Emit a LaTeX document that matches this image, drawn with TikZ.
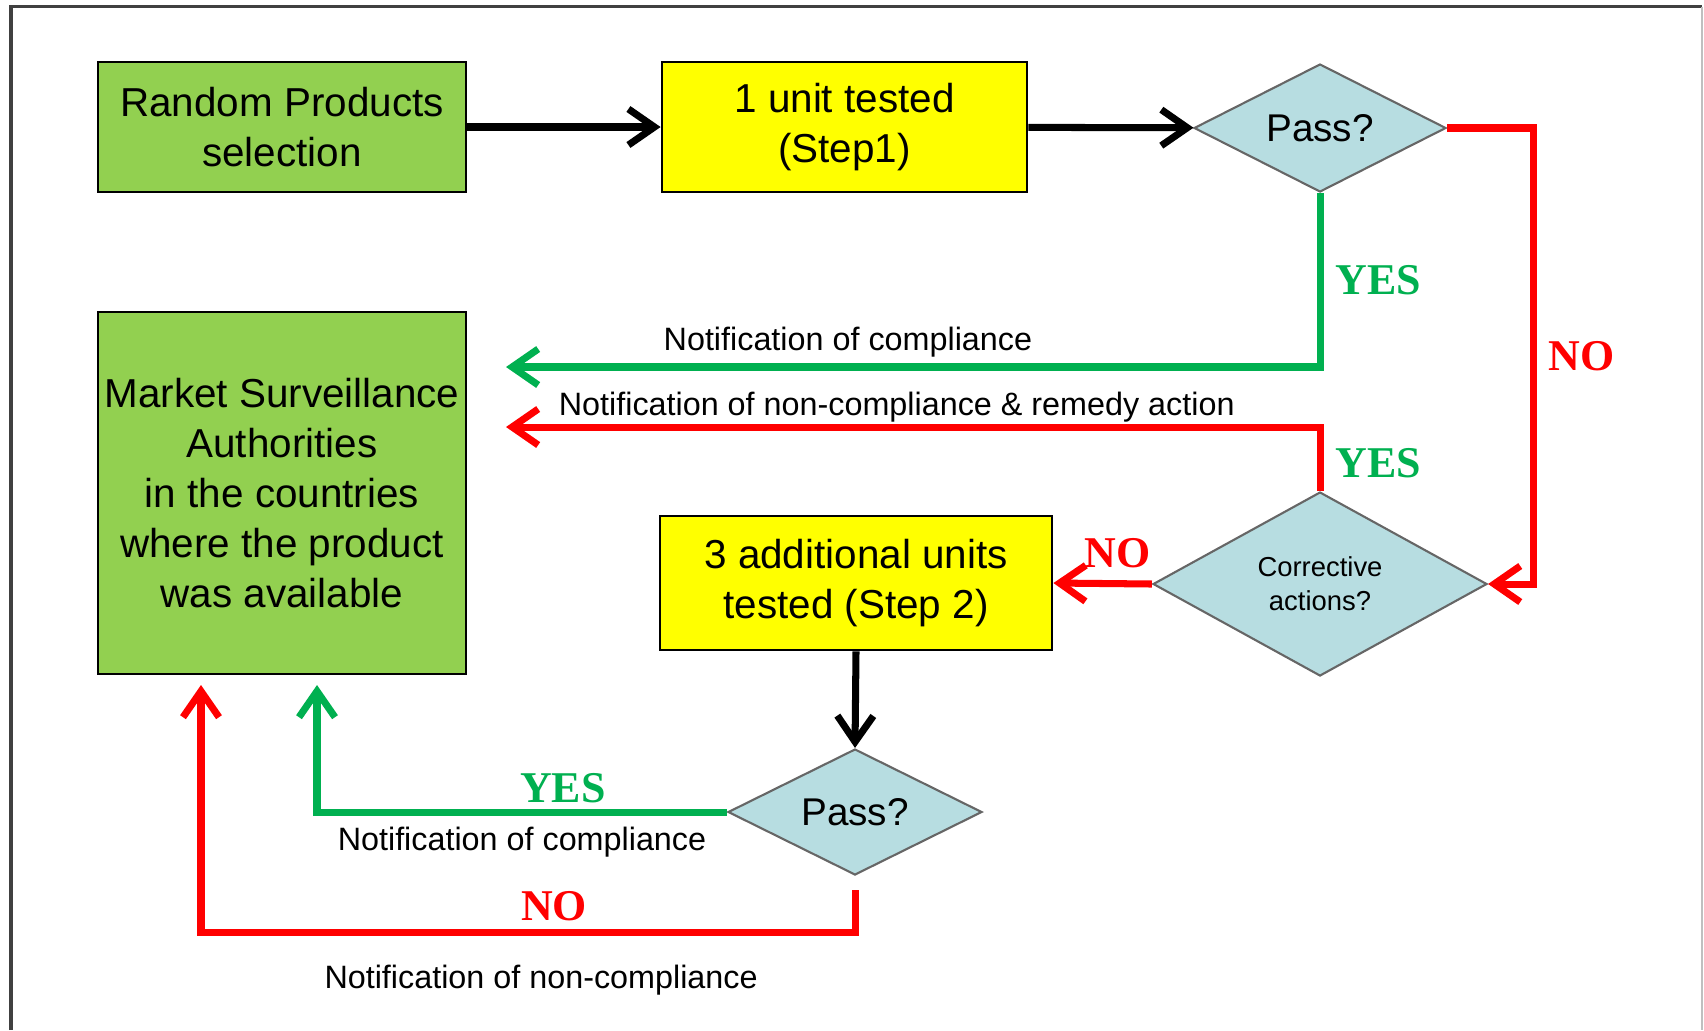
\documentclass[tikz,border=0pt]{standalone}
\usepackage{fontspec}
\setmainfont{Liberation Sans}
\newfontfamily\tagfont{Liberation Serif}
\usetikzlibrary{arrows.meta,shapes.geometric}
\definecolor{boxgreen}{RGB}{146,208,80}
\definecolor{boxyellow}{RGB}{255,255,0}
\definecolor{diafill}{RGB}{183,221,225}
\definecolor{yesgreen}{RGB}{0,176,80}
\definecolor{nored}{RGB}{255,0,0}
\begin{document}
\begin{tikzpicture}[x=1cm,y=-1cm,
box/.style={draw=black,line width=.8pt,inner sep=0pt,minimum width=3.68cm,minimum height=1.3cm,align=center,font=\fontsize{11.5}{14.2}\selectfont},
dia/.style={diamond,draw=black!60,line width=.6pt,fill=diafill,inner sep=0pt,shape aspect=2,align=center,font=\fontsize{11}{13}\selectfont},
flow/.style={line width=2pt,-{Straight Barb[length=2.6mm,width=3.6mm]}},
yesline/.style={flow,draw=yesgreen},
noline/.style={flow,draw=nored},
tag/.style={font=\fontsize{12.5}{14}\selectfont\tagfont\bfseries,inner sep=1.2mm},
yestag/.style={tag,text=yesgreen},
notag/.style={tag,text=nored},
note/.style={font=\fontsize{9.2}{11}\selectfont}]
\useasboundingbox (0,0) rectangle (17.04,10.30);
\draw[black!75,line width=1pt] (0.11,10.30)--(0.11,0.065)--(17.02,0.065);
\draw[black!25,line width=.8pt] (17.02,0.065)--(17.02,10.30);
\node[box,fill=boxgreen] (select) at (2.82,1.27) {Random Products\\selection};
\node[box,fill=boxyellow,minimum width=3.65cm] (step1) at (8.445,1.27) {1 unit tested\\(Step1)};
\node[dia,minimum width=2.52cm,minimum height=1.28cm] (pass1) at (13.20,1.28) {Pass?};
\node[box,fill=boxgreen,minimum height=3.62cm] (msa) at (2.82,4.93) {Market Surveillance\\Authorities\\in the countries\\where the product\\was available};
\node[dia,minimum width=3.34cm,minimum height=1.84cm,font=\fontsize{7.8}{9.6}\selectfont] (correct) at (13.20,5.84) {Corrective\\actions?};
\node[box,fill=boxyellow,minimum width=3.92cm,minimum height=1.34cm] (step2) at (8.56,5.83) {3 additional units\\tested (Step 2)};
\node[dia,minimum width=2.54cm,minimum height=1.26cm] (pass2) at (8.55,8.12) {Pass?};
\coordinate (msaok1) at (5.06,3.67);
\coordinate (msafix) at (5.06,4.27);
\coordinate (msaok2) at (3.17,6.85);
\coordinate (msafail) at (2.01,6.85);
\draw[flow] (select)--(step1);
\draw[flow] (step1)--(pass1);
\draw[noline] (pass1.east)--++(.86,0) |- node[pos=.25,right,notag]{NO} (correct.east);
\draw[yesline] (pass1.south) |- node[pos=.25,right,yestag]{YES} node[pos=.79,above=-.5mm,note]{Notification of compliance} (msaok1);
\draw[noline] (correct.north) |- node[pos=.22,right,yestag]{YES} node[pos=.76,above=-1mm,note]{Notification of non-compliance \& remedy action} (msafix);
\draw[noline] (correct.west)--node[pos=.35,above,notag]{NO} (step2.east);
\draw[flow] (step2.south)--(pass2.north);
\draw[yesline] (pass2.west) -| node[pos=.2,above,yestag,inner sep=.6mm]{YES} node[pos=.25,below,note]{Notification of compliance} (msaok2);
\draw[noline] ([yshift=-1.4mm]pass2.south)--++(0,.42) -| node[pos=.23,above,notag,inner sep=.8mm]{NO} node[pos=.24,below=1.8mm,note]{Notification of non-compliance} (msafail);
\end{tikzpicture}
\end{document}
